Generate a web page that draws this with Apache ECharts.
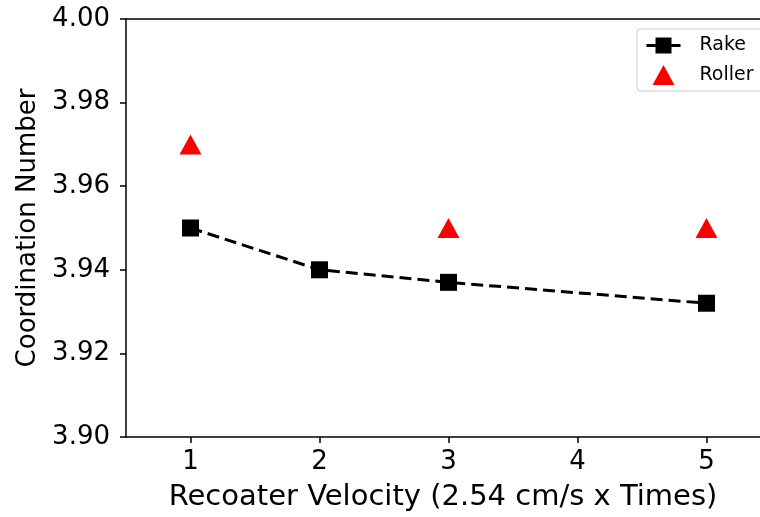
<!DOCTYPE html>
<html>
<head>
<meta charset="utf-8">
<script src="https://cdn.jsdelivr.net/npm/echarts@6/dist/echarts.min.js"></script>
<style>html,body{margin:0;padding:0;background:#fff}#c{width:760px;height:517px}</style>
</head>
<body>
<div id="c"></div>
<script>
const xTicks = [1, 2, 3, 4, 5];
const rakeX = [1, 2, 3, 5];
const rakeValues = [3.950, 3.940, 3.937, 3.932];
const rollerX = [1, 3, 5];
const rollerValues = [3.970, 3.950, 3.950];
const yMin = 3.90, yMax = 4.00, yInterval = 0.02;
const xMin = 0.5, xMax = 5.5;

const font = 'DejaVu Sans';
const chart = echarts.init(document.getElementById('c'), null, {renderer: 'canvas'});
// plot extends past the right edge in the reference: x range 0.5..5.5, visible to ~5.415
const gridLeft = 126;
const visibleMax = xMin + (760 - gridLeft) / 129;
chart.setOption({
  animation: false,
  backgroundColor: '#fff',
  grid: {left: gridLeft, top: 19, right: 0, bottom: 78, containLabel: false},
  legend: {
    left: 637, top: 29,
    orient: 'vertical',
    itemGap: 10,
    itemWidth: 34, itemHeight: 20,
    padding: [7, 30, 6, 8],
    borderColor: '#cccccc', borderWidth: 1, borderRadius: 4,
    textStyle: {fontFamily: font, fontSize: 19, color: '#000', padding: [0, 0, 0, 14]},
    data: [
      {name: 'Rake', lineStyle: {type: 'solid', width: 3, color: '#000'}},
      {name: 'Roller', icon: 'path://M0,20L11,0L22,20Z'}
    ],
    symbolKeepAspect: true
  },
  xAxis: [{
    type: 'value',
    min: xMin, max: visibleMax,
    name: 'Recoater Velocity (2.54 cm/s x Times)',
    nameLocation: 'middle', nameGap: 46,
    nameTextStyle: {fontFamily: font, fontSize: 29, color: '#000'},
    axisLine: {lineStyle: {color: '#000', width: 1.5}},
    axisTick: {show: true, customValues: xTicks, length: 6, lineStyle: {color: '#000', width: 1.5}},
    axisLabel: {fontFamily: font, fontSize: 26, color: '#000', margin: 12, customValues: xTicks,
      formatter: v => String(v)},
    splitLine: {show: false}
  }, {
    type: 'value', min: xMin, max: visibleMax, position: 'top',
    axisLine: {show: true, lineStyle: {color: '#000', width: 1.5}}, axisTick: {show: false}, axisLabel: {show: false},
    splitLine: {show: false}
  }],
  yAxis: {
    type: 'value',
    min: yMin, max: yMax, interval: yInterval,
    name: 'Coordination Number',
    nameLocation: 'middle', nameGap: 85,
    nameTextStyle: {fontFamily: font, fontSize: 26, color: '#000'},
    axisLine: {show: true, lineStyle: {color: '#000', width: 1.5}},
    axisTick: {show: true, length: 6, lineStyle: {color: '#000', width: 1.5}},
    axisLabel: {fontFamily: font, fontSize: 26, color: '#000', margin: 16,
      formatter: v => v.toFixed(2)},
    splitLine: {show: false}
  },
  series: [
    {
      name: 'Rake', type: 'line',
      data: rakeX.map((x, i) => [x, rakeValues[i]]),
      symbol: 'rect', symbolSize: 17,
      itemStyle: {color: '#000'},
      lineStyle: {color: '#000', width: 3, type: [12, 6]},
      z: 3
    },
    {
      name: 'Roller', type: 'scatter',
      data: rollerX.map((x, i) => [x, rollerValues[i]]),
      symbol: 'triangle', symbolSize: [22, 20],
      itemStyle: {color: '#ff0000', opacity: 1},
      z: 4
    }
  ]
});
</script>
</body>
</html>
